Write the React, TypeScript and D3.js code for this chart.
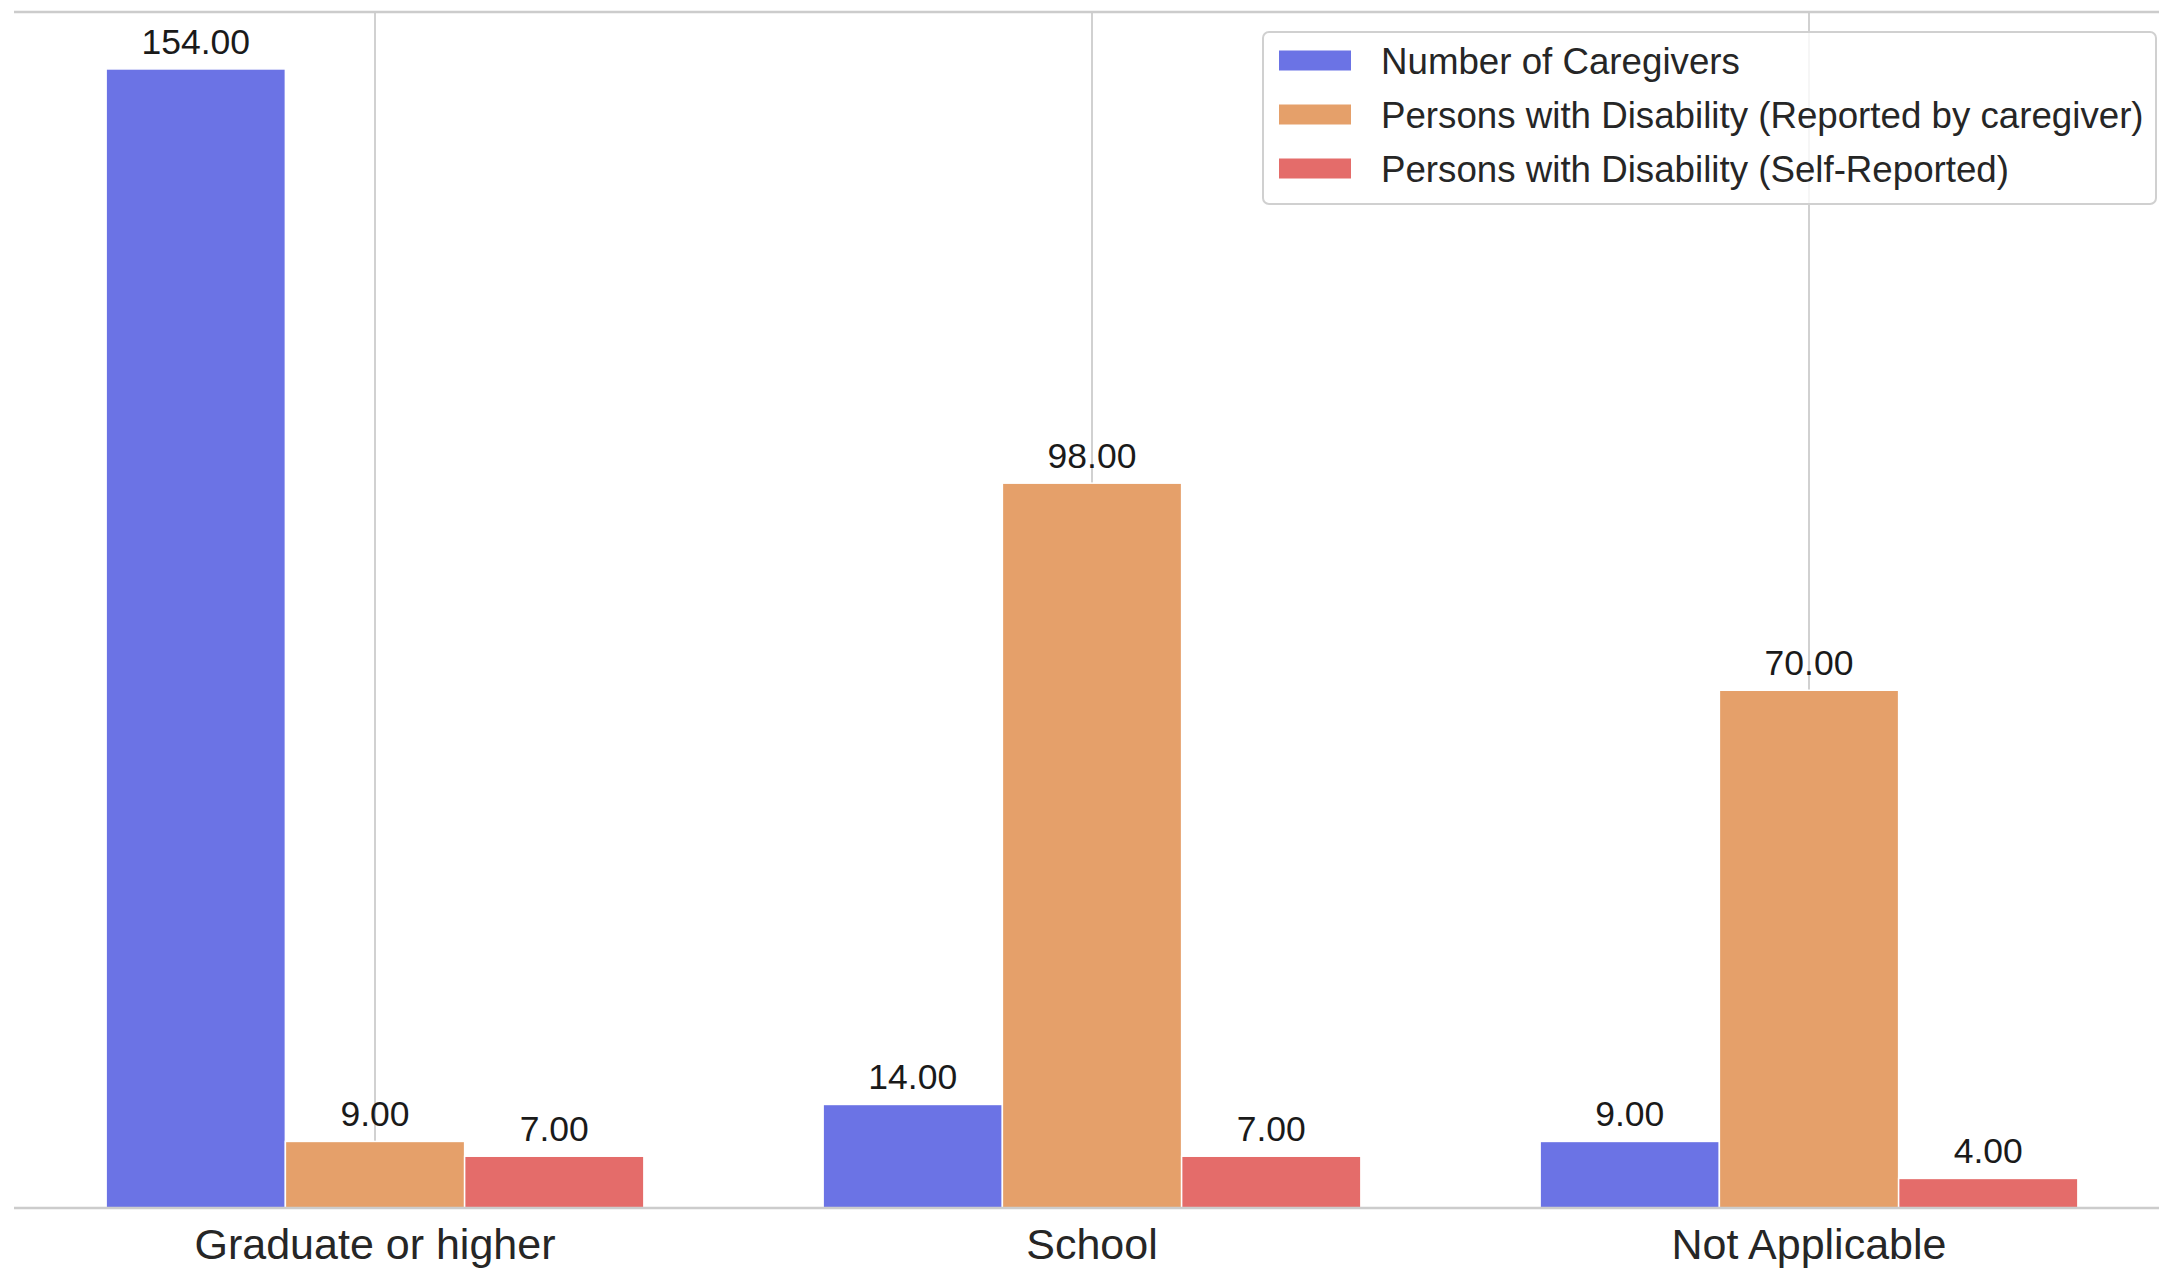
import React, { useEffect, useRef } from "react";
import * as d3 from "d3";

const categories = ["Graduate or higher", "School", "Not Applicable"];
const seriesNames = [
  "Number of Caregivers",
  "Persons with Disability (Reported by caregiver)",
  "Persons with Disability (Self-Reported)",
];
const caregivers = [154, 14, 9];
const reportedByCaregiver = [9, 98, 70];
const selfReported = [7, 7, 4];
const seriesColors = ["#6B73E5", "#E5A06A", "#E46C6A"];

const W = 2159;
const H = 1268;
const FONT = "'Liberation Sans', Arial, Helvetica, sans-serif";

export default function App() {
  const ref = useRef<SVGSVGElement | null>(null);

  useEffect(() => {
    document.body.style.margin = "0";
    const svg = d3.select(ref.current);
    svg.selectAll("*").remove();

    const values = [caregivers, reportedByCaregiver, selfReported];
    const yMax = d3.max(values.flat())! * 1.05;

    const plotTop = 12;
    const plotBottom = 1208;
    const plotLeft = 14;

    const x0 = d3.scaleBand<string>().domain(categories).range([16.5, 2167.5]).padding(0);
    const bw = x0.bandwidth();
    const x1 = d3
      .scaleBand<string>()
      .domain(seriesNames)
      .range([bw * 0.125, bw * 0.875])
      .padding(0);
    const y = d3.scaleLinear().domain([0, yMax]).range([plotBottom, plotTop]);

    // vertical grid lines at category centres
    svg
      .append("g")
      .selectAll("line")
      .data(categories)
      .join("line")
      .attr("x1", (d) => x0(d)! + bw / 2)
      .attr("x2", (d) => x0(d)! + bw / 2)
      .attr("y1", plotTop)
      .attr("y2", plotBottom)
      .attr("stroke", "#cccccc")
      .attr("stroke-width", 1.8);

    // bars
    const groups = svg
      .append("g")
      .selectAll("g")
      .data(categories)
      .join("g")
      .attr("transform", (d) => `translate(${x0(d)},0)`);

    groups
      .selectAll("rect")
      .data((_, i) => seriesNames.map((s, k) => ({ s, k, v: values[k][i] })))
      .join("rect")
      .attr("x", (d) => x1(d.s)!)
      .attr("width", x1.bandwidth())
      .attr("y", (d) => y(d.v))
      .attr("height", (d) => plotBottom - y(d.v))
      .attr("fill", (d) => seriesColors[d.k])
      .attr("stroke", "#ffffff")
      .attr("stroke-width", 1.5);

    groups
      .selectAll("text")
      .data((_, i) => seriesNames.map((s, k) => ({ s, k, v: values[k][i] })))
      .join("text")
      .attr("x", (d) => x1(d.s)! + x1.bandwidth() / 2)
      .attr("y", (d) => y(d.v) - 15)
      .attr("text-anchor", "middle")
      .attr("font-family", FONT)
      .attr("font-size", 35.5)
      .attr("fill", "#1a1a1a")
      .text((d) => d3.format(".2f")(d.v));

    // spines
    svg
      .append("line")
      .attr("x1", plotLeft)
      .attr("x2", W)
      .attr("y1", plotTop)
      .attr("y2", plotTop)
      .attr("stroke", "#cccccc")
      .attr("stroke-width", 2.5);
    svg
      .append("line")
      .attr("x1", plotLeft)
      .attr("x2", W)
      .attr("y1", plotBottom)
      .attr("y2", plotBottom)
      .attr("stroke", "#cccccc")
      .attr("stroke-width", 2.5);

    // category tick labels
    svg
      .append("g")
      .selectAll("text")
      .data(categories)
      .join("text")
      .attr("x", (d) => x0(d)! + bw / 2)
      .attr("y", 1258.5)
      .attr("text-anchor", "middle")
      .attr("font-family", FONT)
      .attr("font-size", 43)
      .attr("fill", "#262626")
      .text((d) => d);

    // legend
    const lg = svg.append("g");
    lg.append("rect")
      .attr("x", 1263)
      .attr("y", 32)
      .attr("width", 893)
      .attr("height", 172)
      .attr("rx", 6)
      .attr("fill", "#ffffff")
      .attr("fill-opacity", 0.8)
      .attr("stroke", "#d0d0d0")
      .attr("stroke-width", 2);
    const rows = lg
      .selectAll("g")
      .data(seriesNames)
      .join("g")
      .attr("transform", (_, i) => `translate(0,${60.5 + i * 54})`);
    rows
      .append("rect")
      .attr("x", 1279)
      .attr("y", -10)
      .attr("width", 72)
      .attr("height", 20)
      .attr("fill", (_, i) => seriesColors[i]);
    rows
      .append("text")
      .attr("x", 1381)
      .attr("y", 13)
      .attr("font-family", FONT)
      .attr("font-size", 36.7)
      .attr("fill", "#262626")
      .text((d) => d);
  }, []);

  return (
    <svg
      ref={ref}
      width={W}
      height={H}
      style={{ position: "absolute", left: 0, top: 0, background: "#ffffff" }}
    />
  );
}
